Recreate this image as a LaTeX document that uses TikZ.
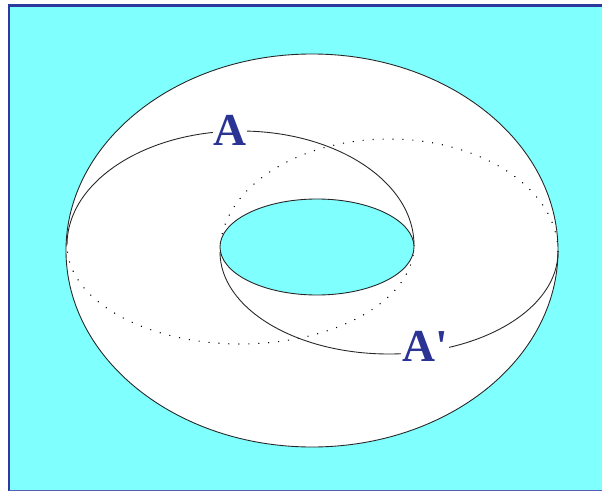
\documentclass[tikz,border=0pt]{standalone}
\usepackage{fontspec}
\setmainfont{Liberation Serif}
\definecolor{framecyan}{HTML}{80FFFF}
\definecolor{frameblue}{HTML}{2B3A9C}
\definecolor{labelblue}{HTML}{2B3394}
\begin{document}
\begin{tikzpicture}[
			x=0.02cm,y=0.02cm,
			frame/.style={draw=frameblue,line width=1.7pt},
			solid curve/.style={draw=black!85,line width=0.5pt},
			hidden curve/.style={draw=black,line width=0.6pt,dash pattern=on 0.6pt off 5.07pt},
			lab/.style={fill=white,text=labelblue,inner sep=0.5pt,font=\fontsize{26}{26}\selectfont\bfseries}
			]
			\useasboundingbox[fill=white] (0,0) rectangle (602,491);
			\fill[framecyan] (9,1) rectangle (602,486);
			\draw[frame] (602,485.7) -- (9,485.7) -- (9,0);
			\draw[draw=frameblue!80,line width=0.6pt] (9,0.6) -- (602,0.6);
			% torus
			\path[fill=white,solid curve] (312,240.5) ellipse [x radius=246,y radius=196.5];
			% hidden halves
			\draw[hidden curve] (414,246) arc [start angle=0,end angle=-180,x radius=173.5,y radius=99];
			\draw[hidden curve] (558,239) arc [start angle=0,end angle=180,x radius=169,y radius=113];
			% visible halves
			\draw[solid curve] (414,246) arc [start angle=0,end angle=180,x radius=173.5,y radius=114];
			\draw[solid curve] (558,239) arc [start angle=0,end angle=-180,x radius=169,y radius=102];
			% hole
			\path[fill=framecyan,solid curve] (317,244) ellipse [x radius=97,y radius=48];
			\node[lab] (a) at (230,361) {A};
			\node[lab] (aprime) at (425,145) {A\textquotesingle};
		\end{tikzpicture}
\end{document}
